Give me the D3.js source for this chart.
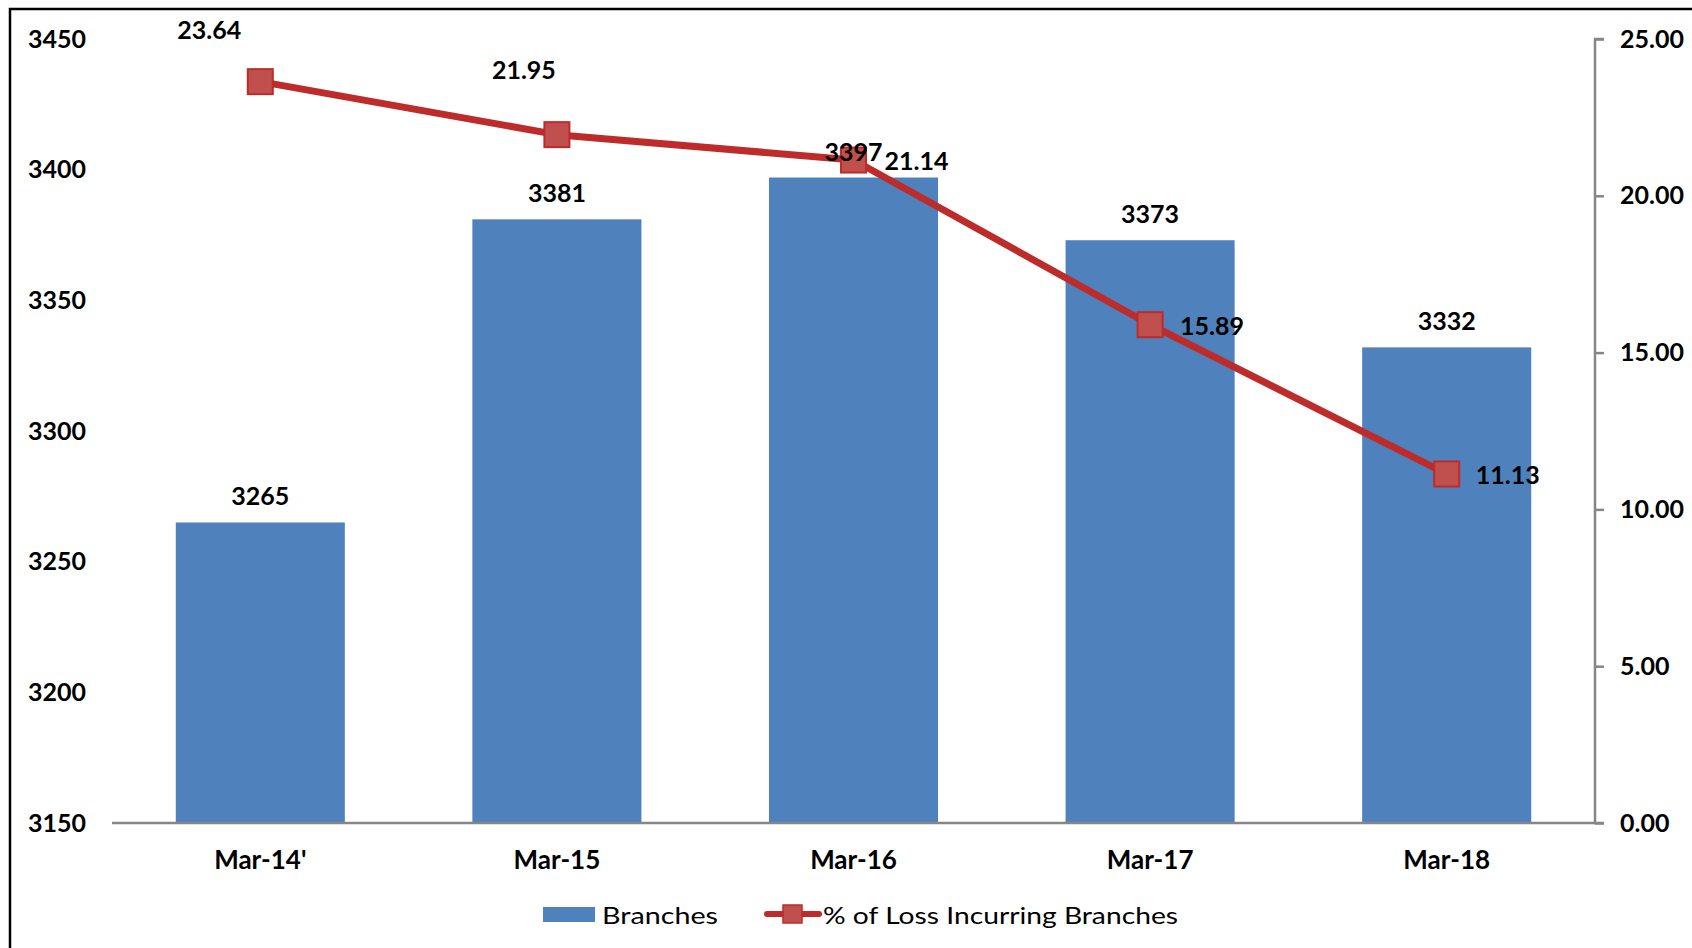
<!DOCTYPE html>
<html><head><meta charset="utf-8">
<script src="https://cdn.jsdelivr.net/npm/d3@7"></script>
<style>body{margin:0;background:#fff}svg{display:block}text{font-family:Lato,"Open Sans",sans-serif}</style>
</head><body>
<svg id="c" width="1692" height="948"></svg>
<script>
const categories = ["Mar-14'", "Mar-15", "Mar-16", "Mar-17", "Mar-18"];
const branches = [3265, 3381, 3397, 3373, 3332];
const lossPct = [23.64, 21.95, 21.14, 15.89, 11.13];
const leftTicks = [3150, 3200, 3250, 3300, 3350, 3400, 3450];
const rightTicks = [0, 5, 10, 15, 20, 25];
const seriesNames = ["Branches", "% of Loss Incurring Branches"];
// label placement offsets (dx, dy, anchor) for line labels
const lineLabelPos = [[-51,-53,"middle"],[-33,-66,"middle"],[31,0,"start"],[30,0,"start"],[29,0,"start"]];

const svg = d3.select("#c");
const W = 1692, H = 948;
const x0 = 112, x1 = 1595, yTop = 39, yBot = 823;
const barColor = "#4F81BD", lineColor = "#BE2B2B", markFill = "#C0504D";

svg.append("rect").attr("x",10).attr("y",9).attr("width",W+20).attr("height",H+20)
  .attr("fill","none").attr("stroke","#000").attr("stroke-width",2.5);

const x = d3.scaleBand().domain(categories).range([x0, x1]).paddingInner(0.43).paddingOuter(0.215);
const yL = d3.scaleLinear().domain([3150, 3450]).range([yBot, yTop]);
const yR = d3.scaleLinear().domain([0, 25]).range([yBot, yTop]);

// bars
svg.append("g").selectAll("rect").data(branches).join("rect")
  .attr("x",(d,i)=>x(categories[i])).attr("width",x.bandwidth())
  .attr("y",d=>yL(d)).attr("height",d=>yBot-yL(d)).attr("fill",barColor);

// left axis labels
const gl = svg.append("g").attr("transform",`translate(86,0)`)
  .call(d3.axisLeft(yL).tickValues(leftTicks).tickSize(0).tickPadding(0).tickFormat(d3.format("d")));
gl.select(".domain").remove();
gl.selectAll("text").attr("font-size",25).attr("font-weight","bold").attr("fill","#000").attr("font-family","Lato");

// right axis
const gr = svg.append("g").attr("transform",`translate(${x1},0)`)
  .call(d3.axisRight(yR).tickValues(rightTicks).tickSize(9).tickPadding(16).tickFormat(d3.format(".2f")));
gr.select(".domain").attr("stroke","#868686").attr("stroke-width",2.5).attr("d",`M9,${yTop}H0V${yBot}H9`);
gr.selectAll("line").attr("stroke","#868686").attr("stroke-width",2.5);
gr.selectAll("text").attr("font-size",25).attr("font-weight","bold").attr("fill","#000").attr("font-family","Lato");

// bottom axis
const gb = svg.append("g").attr("transform",`translate(0,${yBot})`)
  .call(d3.axisBottom(x).tickSize(0).tickPadding(28));
gb.select(".domain").attr("stroke","#868686").attr("stroke-width",2.5).attr("d",`M${x0},0H${x1}`);
gb.selectAll("text").attr("font-size",26).attr("font-weight","bold").attr("fill","#000").attr("font-family","Lato");

// line
const cx = i => x(categories[i]) + x.bandwidth()/2;
const line = d3.line().x((d,i)=>cx(i)).y(d=>yR(d));
svg.append("path").datum(lossPct).attr("d",line).attr("fill","none")
  .attr("stroke",lineColor).attr("stroke-width",7).attr("stroke-linejoin","round");
svg.append("g").selectAll("rect").data(lossPct).join("rect")
  .attr("x",(d,i)=>cx(i)-12.5).attr("y",d=>yR(d)-12.5).attr("width",25).attr("height",25)
  .attr("fill",markFill).attr("stroke",lineColor).attr("stroke-width",2);

// bar labels (drawn over line, as in original)
svg.append("g").selectAll("text").data(branches).join("text")
  .attr("x",(d,i)=>x(categories[i])+x.bandwidth()/2).attr("y",d=>yL(d)-27)
  .attr("text-anchor","middle").attr("dominant-baseline","central")
  .attr("font-size",25).attr("font-weight","bold").text(d=>d);

svg.append("g").selectAll("text").data(lossPct).join("text")
  .attr("x",(d,i)=>cx(i)+lineLabelPos[i][0]).attr("y",(d,i)=>yR(d)+lineLabelPos[i][1])
  .attr("text-anchor",(d,i)=>lineLabelPos[i][2]).attr("dominant-baseline","central")
  .attr("font-size",25).attr("font-weight","bold").text(d=>d3.format(".2f")(d));

// legend
const lg = svg.append("g");
lg.append("rect").attr("x",543).attr("y",907).attr("width",52).attr("height",15).attr("fill",barColor);
lg.append("text").attr("x",602).attr("y",914).attr("dominant-baseline","central")
  .attr("font-family","DejaVu Sans").attr("font-size",24).attr("textLength",116).attr("lengthAdjust","spacingAndGlyphs").text(seriesNames[0]);
lg.append("line").attr("x1",767).attr("x2",819).attr("y1",914).attr("y2",914).attr("stroke",lineColor).attr("stroke-width",6).attr("stroke-linecap","round");
lg.append("rect").attr("x",783).attr("y",905).attr("width",19).attr("height",18).attr("fill",markFill).attr("stroke",lineColor).attr("stroke-width",1.5);
lg.append("text").attr("x",823).attr("y",914).attr("dominant-baseline","central")
  .attr("font-family","DejaVu Sans").attr("font-size",24).attr("textLength",355).attr("lengthAdjust","spacingAndGlyphs").text(seriesNames[1]);
</script>
</body></html>
